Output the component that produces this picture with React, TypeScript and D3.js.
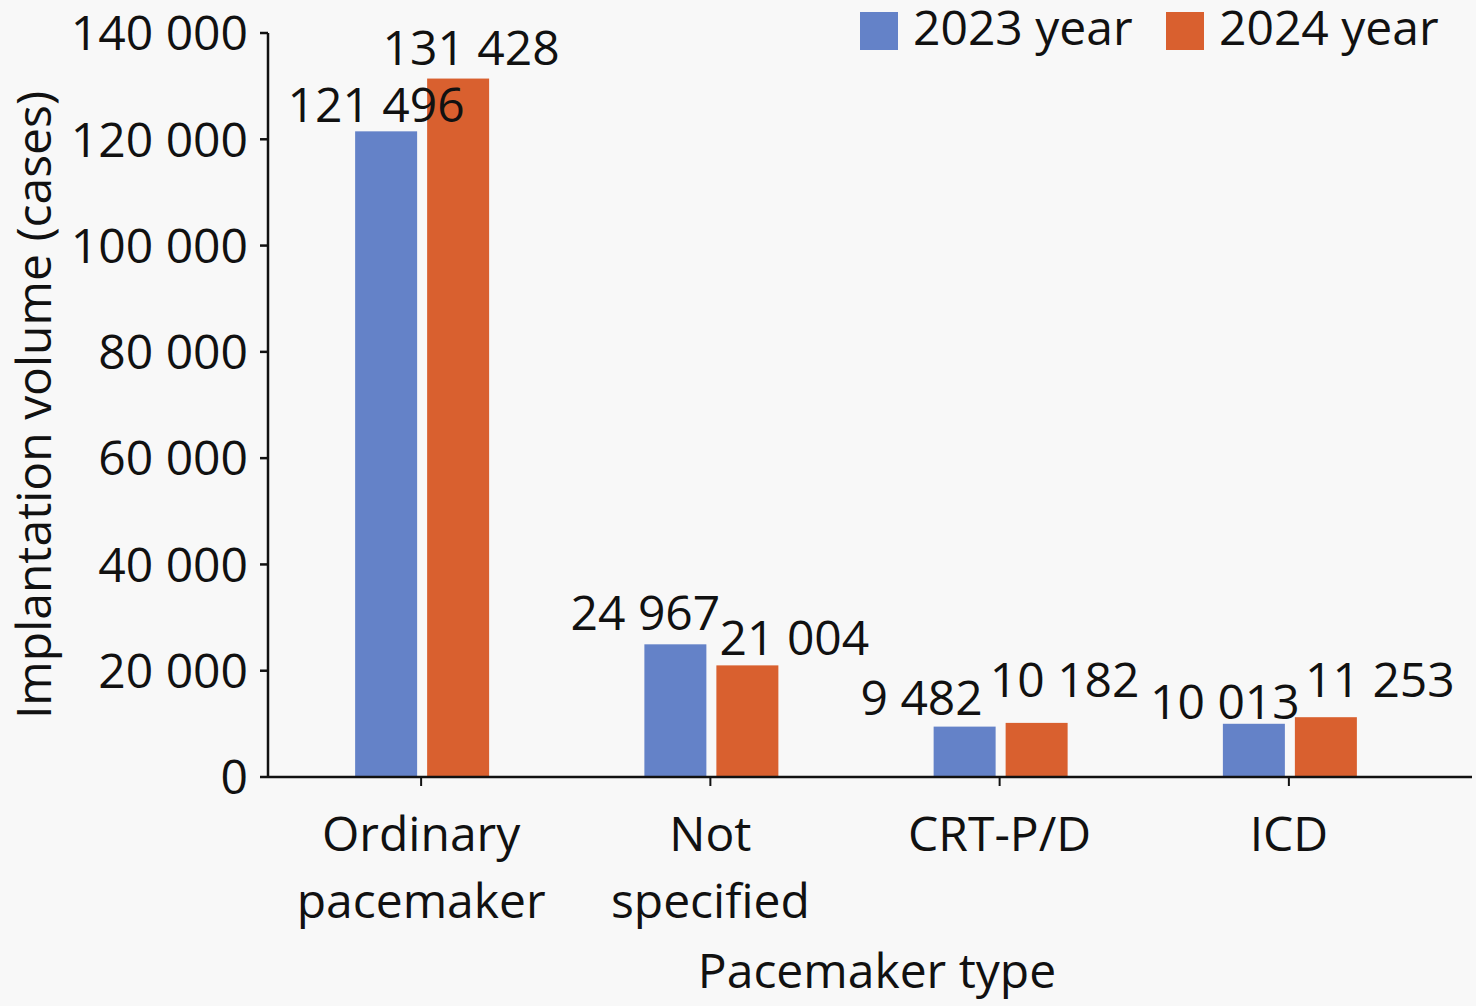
import React from "react";
import * as d3 from "d3";

const categories = ["Ordinary pacemaker", "Not specified", "CRT-P/D", "ICD"];
const categoryLines = [["Ordinary", "pacemaker"], ["Not", "specified"], ["CRT-P/D"], ["ICD"]];
const seriesNames = ["2023 year", "2024 year"];
const values2023 = [121496, 24967, 9482, 10013];
const values2024 = [131428, 21004, 10182, 11253];
const yTicks = [0, 20000, 40000, 60000, 80000, 100000, 120000, 140000];
const colors = ["#6482C8", "#D9602F"];

// label placement tweaks (layout, not data)
const labelDx = [[-10, 13], [-30, 47], [-43, 28], [-29, 54]];
const labelDy = [[-9, -14], [-14, -10], [-12, -26], [-5, -20]];

const W = 1476;
const H = 1006;
const FONT = "'Open Sans', 'Noto Sans', sans-serif";

const fmt = (v: number) => {
  const s = String(v);
  return s.replace(/\B(?=(\d{3})+(?!\d))/g, " ");
};

export default function App() {
  const y = d3.scaleLinear().domain([0, 140000]).range([777, 33]);
  const x = d3.scaleBand<string>().domain(categories).range([276.5, 1433.5]).padding(0);
  const xs = d3.scaleBand<string>().domain(seriesNames).range([-66, 68]).paddingInner(0.139);
  const series = [values2023, values2024];

  return (
    <svg
      width={W}
      height={H}
      style={{ position: "absolute", left: 0, top: 0, background: "#F8F8F8" }}
      fontFamily={FONT}
    >
      <rect x={0} y={0} width={W} height={H} fill="#F8F8F8" />
      {/* bars */}
      {categories.map((c, i) => {
        const cx = (x(c) as number) + x.bandwidth() / 2;
        return series.map((vals, j) => {
          const bx = cx + (xs(seriesNames[j]) as number);
          return (
            <rect
              key={c + j}
              x={bx}
              y={y(vals[i])}
              width={xs.bandwidth()}
              height={y(0) - y(vals[i])}
              fill={colors[j]}
            />
          );
        });
      })}
      {/* data labels */}
      {categories.map((c, i) => {
        const cx = (x(c) as number) + x.bandwidth() / 2;
        return series.map((vals, j) => {
          const bx = cx + (xs(seriesNames[j]) as number) + xs.bandwidth() / 2;
          return (
            <text
              key={"l" + c + j}
              x={bx + labelDx[i][j]}
              y={y(vals[i]) + labelDy[i][j]}
              textAnchor="middle"
              fontSize={48}
              fill="#111"
            >
              {fmt(vals[i])}
            </text>
          );
        });
      })}
      {/* y axis */}
      <line x1={268} x2={268} y1={y(140000)} y2={y(0)} stroke="#111" strokeWidth={2.5} />
      {yTicks.map((t) => (
        <g key={t}>
          <line x1={260} x2={268} y1={y(t)} y2={y(t)} stroke="#111" strokeWidth={2.5} />
          <text x={248} y={y(t)} dy="0.36em" textAnchor="end" fontSize={48} fill="#111">
            {fmt(t)}
          </text>
        </g>
      ))}
      {/* x axis */}
      <line x1={268} x2={1472} y1={y(0)} y2={y(0)} stroke="#111" strokeWidth={2.5} />
      {categories.map((c, i) => {
        const cx = (x(c) as number) + x.bandwidth() / 2;
        return (
          <g key={"t" + c}>
            <line x1={cx} x2={cx} y1={y(0)} y2={y(0) + 9} stroke="#111" strokeWidth={2} />
            {categoryLines[i].map((ln, k) => (
              <text
                key={ln}
                x={cx}
                y={851 + k * 67}
                textAnchor="middle"
                fontSize={48}
                fill="#111"
              >
                {ln}
              </text>
            ))}
          </g>
        );
      })}
      <text x={877} y={988} textAnchor="middle" fontSize={48} fill="#111">
        Pacemaker type
      </text>
      <text
        transform={`translate(34, 405) rotate(-90)`}
        textAnchor="middle"
        dy="0.36em"
        fontSize={48}
        fill="#111"
      >
        Implantation volume (cases)
      </text>
      {/* legend */}
      {seriesNames.map((s, j) => (
        <g key={s} transform={`translate(${860 + j * 306}, 12)`}>
          <rect x={0} y={0} width={38} height={38} fill={colors[j]} />
          <text x={53} y={33} fontSize={48} fill="#111">
            {s}
          </text>
        </g>
      ))}
    </svg>
  );
}
